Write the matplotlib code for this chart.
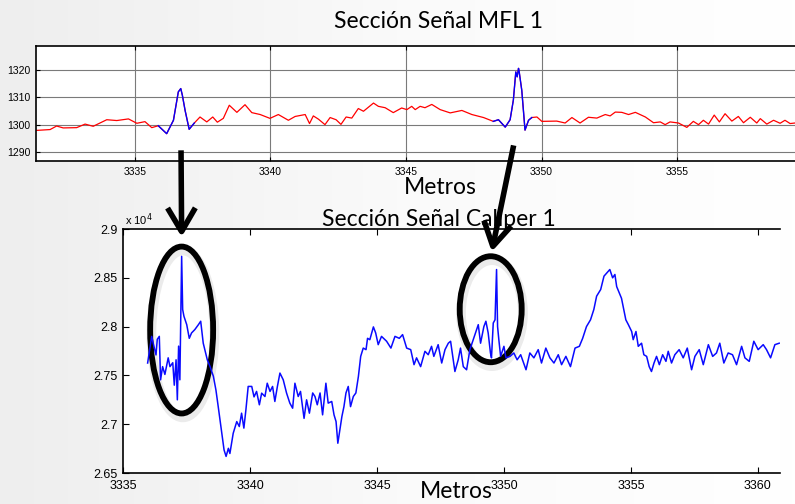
import matplotlib.pyplot as plt
import numpy as np
from matplotlib.patches import Ellipse, ConnectionPatch
from matplotlib.colors import LinearSegmentedColormap

plt.rcParams['font.family'] = ['Liberation Sans', 'DejaVu Sans']

# señal MFL 1: (metros, amplitud)
mfl = [
    (3331.38, 1297.9), (3331.87, 1298.2), (3332.11, 1299.5), (3332.35, 1298.8),
    (3332.85, 1298.9), (3333.16, 1300.2), (3333.46, 1299.4), (3333.96, 1301.8),
    (3334.33, 1301.5), (3334.76, 1302.1), (3335.07, 1300.5), (3335.37, 1301.1),
    (3335.62, 1298.9), (3335.86, 1299.6), (3336.17, 1296.7), (3336.42, 1301.6),
    (3336.60, 1312.0), (3336.69, 1313.2), (3336.75, 1310.7), (3336.85, 1305.2),
    (3337.00, 1298.3), (3337.19, 1300.6), (3337.40, 1302.8), (3337.65, 1301.0),
    (3337.87, 1302.8), (3338.04, 1300.9), (3338.26, 1302.3), (3338.48, 1307.1),
    (3338.76, 1304.5), (3339.06, 1307.3), (3339.31, 1304.4), (3339.62, 1303.7),
    (3339.98, 1302.3), (3340.29, 1303.7), (3340.66, 1301.6), (3340.91, 1303.0),
    (3341.28, 1303.7), (3341.44, 1300.4), (3341.58, 1303.2), (3341.77, 1302.0),
    (3342.01, 1300.0), (3342.20, 1302.6), (3342.42, 1301.8), (3342.60, 1300.1),
    (3342.79, 1302.8), (3343.00, 1302.4), (3343.24, 1305.9), (3343.43, 1304.9),
    (3343.80, 1307.9), (3343.98, 1306.7), (3344.23, 1306.2), (3344.53, 1304.4),
    (3344.84, 1306.1), (3345.03, 1305.5), (3345.21, 1306.7), (3345.34, 1305.5),
    (3345.52, 1306.7), (3345.70, 1306.2), (3345.95, 1307.4), (3346.26, 1305.5),
    (3346.63, 1304.3), (3347.06, 1305.2), (3347.43, 1303.7), (3347.86, 1302.6),
    (3348.22, 1301.2), (3348.41, 1301.8), (3348.66, 1299.1), (3348.84, 1301.8),
    (3348.96, 1309.0), (3349.05, 1319.3), (3349.10, 1317.5), (3349.15, 1320.6),
    (3349.17, 1319.7), (3349.27, 1312.6), (3349.39, 1298.0), (3349.52, 1301.6),
    (3349.64, 1302.6), (3349.83, 1302.8), (3350.01, 1301.2), (3350.56, 1301.3),
    (3350.87, 1300.6), (3351.12, 1302.6), (3351.42, 1300.6), (3351.73, 1302.7),
    (3352.04, 1302.4), (3352.35, 1303.7), (3352.53, 1303.2), (3352.72, 1304.6),
    (3352.96, 1304.5), (3353.21, 1303.7), (3353.46, 1304.5), (3353.83, 1302.8),
    (3354.13, 1300.7), (3354.38, 1301.0), (3354.56, 1300.0), (3354.74, 1301.0),
    (3355.05, 1300.6), (3355.36, 1299.0), (3355.60, 1301.2), (3355.79, 1300.0),
    (3355.97, 1301.6), (3356.16, 1300.2), (3356.37, 1303.5), (3356.56, 1301.0),
    (3356.77, 1304.0), (3357.02, 1301.3), (3357.26, 1303.0), (3357.45, 1300.7),
    (3357.70, 1302.7), (3357.94, 1300.6), (3358.07, 1302.2), (3358.31, 1300.2),
    (3358.56, 1301.6), (3358.80, 1300.5), (3358.98, 1301.6), (3359.17, 1300.4),
    (3359.35, 1300.6),
]
# tramos marcados en azul
mfl_blue = [(3335.86, 3337.19), (3348.22, 3349.64)]

# señal Caliper 1: (metros, valor x 10^4)
caliper = [
    (3335.97, 2.7627), (3336.13, 2.790), (3336.19, 2.783), (3336.30, 2.771),
    (3336.35, 2.787), (3336.43, 2.790), (3336.48, 2.7455), (3336.56, 2.759),
    (3336.65, 2.751), (3336.78, 2.768), (3336.85, 2.759), (3336.96, 2.763),
    (3337.02, 2.740), (3337.09, 2.766), (3337.14, 2.725), (3337.19, 2.780),
    (3337.24, 2.7455), (3337.27, 2.7986), (3337.31, 2.872), (3337.35, 2.8175),
    (3337.40, 2.8106), (3337.51, 2.802), (3337.61, 2.788), (3337.70, 2.7935),
    (3337.83, 2.797), (3337.97, 2.802), (3338.06, 2.8055), (3338.16, 2.783),
    (3338.32, 2.766), (3338.43, 2.759), (3338.56, 2.749), (3338.66, 2.735),
    (3338.75, 2.718), (3338.88, 2.6925), (3338.98, 2.6736), (3339.06, 2.667),
    (3339.15, 2.6753), (3339.21, 2.670), (3339.34, 2.6907), (3339.48, 2.7027),
    (3339.58, 2.6976), (3339.67, 2.7113), (3339.76, 2.696), (3339.84, 2.7147),
    (3339.93, 2.7387), (3340.07, 2.7387), (3340.16, 2.728), (3340.26, 2.7336),
    (3340.37, 2.7199), (3340.46, 2.7318), (3340.59, 2.7284), (3340.68, 2.742),
    (3340.79, 2.7336), (3340.89, 2.7387), (3340.98, 2.7233), (3341.08, 2.7387),
    (3341.18, 2.7524), (3341.31, 2.7455), (3341.44, 2.732), (3341.57, 2.7216),
    (3341.68, 2.7164), (3341.77, 2.742), (3341.90, 2.7284), (3341.99, 2.7336),
    (3342.13, 2.706), (3342.23, 2.725), (3342.34, 2.7113), (3342.47, 2.732),
    (3342.56, 2.7284), (3342.65, 2.7199), (3342.76, 2.732), (3342.86, 2.7096),
    (3342.99, 2.742), (3343.08, 2.7216), (3343.22, 2.7233), (3343.31, 2.7096),
    (3343.39, 2.7027), (3343.46, 2.6805), (3343.54, 2.6942), (3343.62, 2.7079),
    (3343.70, 2.718), (3343.78, 2.732), (3343.87, 2.7387), (3343.96, 2.718),
    (3344.07, 2.7284), (3344.17, 2.732), (3344.27, 2.749), (3344.36, 2.7695),
    (3344.46, 2.778), (3344.57, 2.7764), (3344.63, 2.788), (3344.72, 2.7866),
    (3344.86, 2.7997), (3344.95, 2.7935), (3345.05, 2.7815), (3345.18, 2.790),
    (3345.38, 2.785), (3345.55, 2.778), (3345.71, 2.790), (3345.88, 2.788),
    (3346.01, 2.7918), (3346.17, 2.778), (3346.33, 2.7764), (3346.46, 2.761),
    (3346.56, 2.768), (3346.72, 2.759), (3346.89, 2.7747), (3347.02, 2.7712),
    (3347.15, 2.7798), (3347.24, 2.7695), (3347.41, 2.7815), (3347.55, 2.7627),
    (3347.68, 2.7764), (3347.81, 2.783), (3347.90, 2.785), (3348.07, 2.754),
    (3348.20, 2.766), (3348.29, 2.778), (3348.40, 2.759), (3348.53, 2.7558),
    (3348.66, 2.7764), (3348.79, 2.7866), (3348.90, 2.795), (3348.99, 2.802),
    (3349.08, 2.783), (3349.21, 2.800), (3349.29, 2.8055), (3349.38, 2.7935),
    (3349.47, 2.773), (3349.51, 2.768), (3349.58, 2.8037), (3349.65, 2.807),
    (3349.71, 2.8585), (3349.75, 2.800), (3349.80, 2.7866), (3349.87, 2.7695),
    (3350.00, 2.7798), (3350.08, 2.768), (3350.24, 2.7695), (3350.39, 2.773),
    (3350.52, 2.766), (3350.66, 2.7712), (3350.87, 2.7558), (3351.02, 2.773),
    (3351.18, 2.768), (3351.35, 2.7764), (3351.48, 2.7627), (3351.65, 2.778),
    (3351.81, 2.768), (3351.97, 2.7627), (3352.14, 2.7712), (3352.27, 2.761),
    (3352.44, 2.7695), (3352.62, 2.759), (3352.80, 2.778), (3352.97, 2.7798),
    (3353.10, 2.788), (3353.25, 2.800), (3353.41, 2.807), (3353.54, 2.8175),
    (3353.65, 2.8312), (3353.81, 2.838), (3353.94, 2.8517), (3354.11, 2.8568),
    (3354.17, 2.8585), (3354.28, 2.850), (3354.37, 2.8534), (3354.44, 2.841),
    (3354.54, 2.8346), (3354.63, 2.829), (3354.72, 2.8175), (3354.80, 2.807),
    (3354.90, 2.802), (3355.03, 2.795), (3355.09, 2.7866), (3355.20, 2.795),
    (3355.29, 2.7798), (3355.42, 2.783), (3355.51, 2.7712), (3355.62, 2.7695),
    (3355.72, 2.759), (3355.81, 2.754), (3355.91, 2.7627), (3356.01, 2.7695),
    (3356.12, 2.761), (3356.25, 2.7712), (3356.38, 2.7644), (3356.47, 2.7747),
    (3356.60, 2.7627), (3356.73, 2.7712), (3356.90, 2.7764), (3357.06, 2.768),
    (3357.22, 2.778), (3357.39, 2.7558), (3357.52, 2.7695), (3357.69, 2.7764),
    (3357.85, 2.761), (3358.05, 2.7815), (3358.22, 2.7695), (3358.37, 2.773),
    (3358.50, 2.783), (3358.66, 2.7627), (3358.83, 2.773), (3359.00, 2.7712),
    (3359.16, 2.761), (3359.36, 2.7798), (3359.49, 2.768), (3359.66, 2.7644),
    (3359.84, 2.785), (3360.01, 2.7764), (3360.21, 2.7815), (3360.34, 2.7764),
    (3360.50, 2.768), (3360.67, 2.7815), (3360.84, 2.783),
]

# zonas marcadas: (centro x, centro y, ancho, alto) en datos del caliper
circles = [(3337.31, 2.7965, 2.48, 0.171), (3349.48, 2.8178, 2.44, 0.1086)]
# flechas: punto en MFL -> punto en caliper
arrows = [((3336.70, 1290.6), (3337.31, 2.8918)),
          ((3348.97, 1292.4), (3349.52, 2.8767))]

mx, my = np.array(mfl).T
cx, cy = np.array(caliper).T

fig = plt.figure(figsize=(7.95, 5.04), dpi=100)

# fondo tipo diapositiva
bg = fig.add_axes([0, 0, 1, 1], zorder=-10)
grad = np.linspace(0, 1, 256)[None, :]
bg.imshow(grad, cmap=LinearSegmentedColormap.from_list('g', ['#eeeeee', '#fafafa', '#ffffff']),
          aspect='auto', extent=[0, 1, 0, 1])
bg.axis('off')

# --- MFL ---
ax1 = fig.add_axes([0.0453, 0.6806, 0.9547, 0.2282])
ax1.plot(mx, my, color='#ff0000', lw=0.9)
for a, b in mfl_blue:
    m = (mx >= a) & (mx <= b)
    ax1.plot(mx[m], my[m], color='#0000ff', lw=1.0)
ax1.set_xlim(3331.35, 3359.35)
ax1.set_ylim(1286.7, 1328.8)
ax1.set_xticks([3335, 3340, 3345, 3350, 3355])
ax1.set_yticks([1290, 1300, 1310, 1320])
ax1.grid(True, color='#7a7a7a', lw=0.8)
ax1.tick_params(direction='in', length=3, labelsize=7.5, top=True, pad=4)
ax1.spines['right'].set_visible(False)
for s in ['left', 'top', 'bottom']:
    ax1.spines[s].set_linewidth(1.2)

# --- Caliper ---
ax2 = fig.add_axes([0.1547, 0.0615, 0.8264, 0.4841])
ax2.plot(cx, cy, color='#0a0aff', lw=1.1)
ax2.set_xlim(3335, 3360.87)
ax2.set_ylim(2.65, 2.9)
ax2.set_xticks([3335, 3340, 3345, 3350, 3355, 3360])
ax2.set_yticks([2.65, 2.7, 2.75, 2.8, 2.85, 2.9])
ax2.set_yticklabels(['2.65', '2.7', '2.75', '2.8', '2.85', '2.9'])
ax2.tick_params(direction='in', length=4, labelsize=9, top=True)
ax2.tick_params(axis='x', pad=5)
ax2.tick_params(axis='y', pad=4)
ax2.spines['right'].set_visible(False)
for s in ['left', 'top', 'bottom']:
    ax2.spines[s].set_linewidth(1.2)
fig.text(125 / 795, 1 - 220 / 504, r'x 10$^{4}$', fontsize=8, va='center')

# elipses
for x0, y0, w, h in circles:
    ax2.add_patch(Ellipse((x0 + 0.05, y0 - 0.004), w, h, fill=False, lw=7,
                          ec='#000000', alpha=0.08, clip_on=False))
    ax2.add_patch(Ellipse((x0, y0), w, h, fill=False, lw=4.2, ec='black', clip_on=False))

# flechas
for pa, pb in arrows:
    cp = ConnectionPatch(xyA=pa, coordsA=ax1.transData, xyB=pb, coordsB=ax2.transData,
                         arrowstyle='->,head_length=0.85,head_width=0.5',
                         mutation_scale=20, lw=4, color='black', capstyle='butt')
    fig.add_artist(cp)

# textos de la diapositiva
tf = ['Lato', 'DejaVu Sans']
fig.text(439 / 795, 1 - 22 / 504, 'Sección Señal MFL 1', fontsize=16.5,
         family=tf, ha='center', va='center')
fig.text(440 / 795, 1 - 187 / 504, 'Metros', fontsize=16.5, family=tf, ha='center', va='center')
fig.text(439 / 795, 1 - 219 / 504, 'Sección Señal Caliper 1', fontsize=16.5,
         family=tf, ha='center', va='center')
fig.text(456 / 795, 1 - 492 / 504, 'Metros', fontsize=16.5, family=tf, ha='center', va='center')

fig.savefig('out.png', dpi=100)
